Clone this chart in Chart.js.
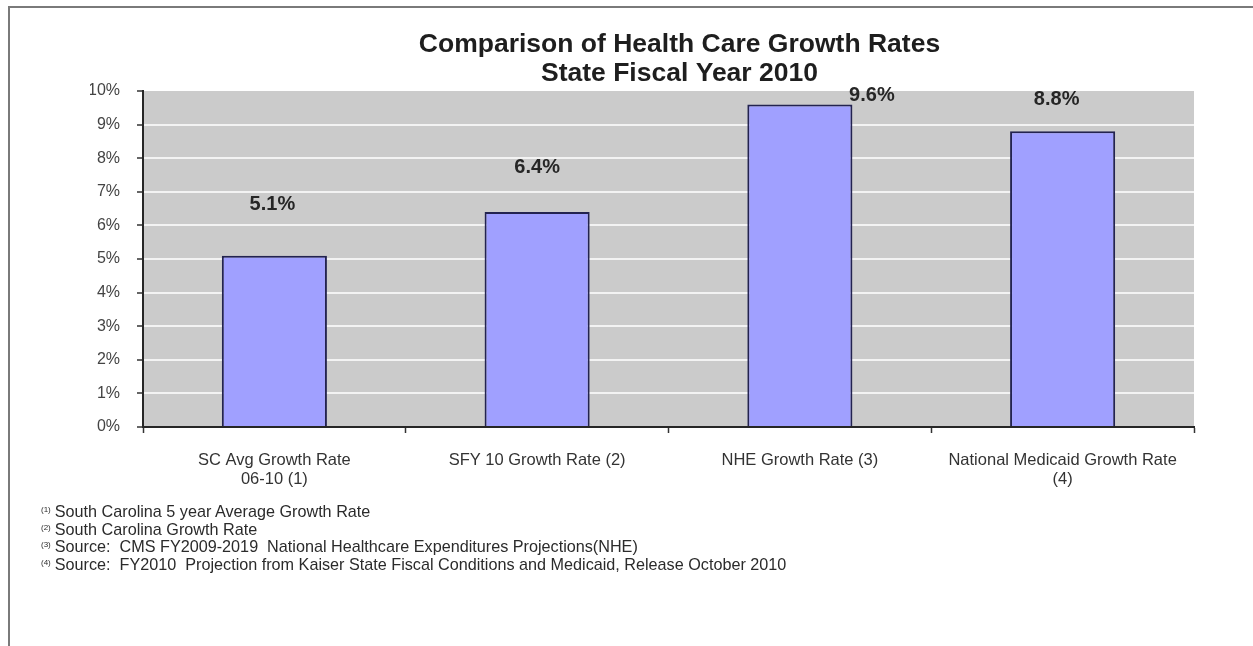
<!DOCTYPE html>
<html>
<head>
<meta charset="utf-8">
<title>Comparison of Health Care Growth Rates</title>
<script src="https://cdn.jsdelivr.net/npm/chart.js@4.4.0/dist/chart.umd.min.js"></script>
<style>
  html, body { margin: 0; padding: 0; background: #fff; }
  #wrap { position: relative; width: 1253px; height: 646px; overflow: hidden; }
  #frame { position: absolute; left: 8px; top: 6px; right: -4px; bottom: -4px;
           border-top: 2px solid #7a7a7a; border-left: 2px solid #7a7a7a; }
  #growthChart { position: absolute; left: 0; top: 0; }
  #notes { position: absolute; left: 41px; top: 503px; color: #2b2b2b;
           font: 16.2px "Liberation Sans", Arial, sans-serif; white-space: pre; }
  #notes div { height: 17.5px; line-height: 17.5px; }
  #notes sup { font-size: 8px; line-height: 0; vertical-align: 5px; margin-right: 4px; }
</style>
</head>
<body>
<div id="wrap">
  <div id="frame"></div>
  <canvas id="growthChart" width="1253" height="646"></canvas>
  <div id="notes"></div>
</div>
<script>
const categories = [
  ['SC Avg Growth Rate', '06-10 (1)'],
  'SFY 10 Growth Rate (2)',
  'NHE Growth Rate (3)',
  ['National Medicaid Growth Rate', '(4)']
];
const growthRates = [5.1, 6.4, 9.6, 8.8];
const yTickLabels = ['0%', '1%', '2%', '3%', '4%', '5%', '6%', '7%', '8%', '9%', '10%'];
const titleLines = ['Comparison of Health Care Growth Rates', 'State Fiscal Year 2010'];
const footnotes = [
  ['(1)', 'South Carolina 5 year Average Growth Rate'],
  ['(2)', 'South Carolina Growth Rate'],
  ['(3)', 'Source:  CMS FY2009-2019  National Healthcare Expenditures Projections(NHE)'],
  ['(4)', 'Source:  FY2010  Projection from Kaiser State Fiscal Conditions and Medicaid, Release October 2010']
];

const FONT = '"Liberation Sans", Arial, sans-serif';

// footnotes under the chart
const notes = document.getElementById('notes');
footnotes.forEach(([mark, text]) => {
  const line = document.createElement('div');
  const sup = document.createElement('sup');
  sup.textContent = mark;
  line.appendChild(sup);
  line.appendChild(document.createTextNode(text));
  notes.appendChild(line);
});

// grey fill behind the plot area
const plotBackground = {
  id: 'plotBackground',
  beforeDraw(chart) {
    const { ctx, chartArea: a } = chart;
    ctx.save();
    ctx.fillStyle = '#cbcbcb';
    ctx.fillRect(a.left, a.top, a.right - a.left, a.bottom - a.top);
    ctx.restore();
  }
};

// two-line heading, sits a little right of the plot centre
const heading = {
  id: 'heading',
  afterDraw(chart, args, opts) {
    const { ctx, chartArea: a } = chart;
    const cx = (a.left + a.right) / 2 + opts.shift;
    ctx.save();
    ctx.font = 'bold 26.5px ' + FONT;
    ctx.fillStyle = '#1e1e1e';
    ctx.textAlign = 'center';
    ctx.textBaseline = 'middle';
    titleLines.forEach((t, i) => ctx.fillText(t, cx, opts.top + i * opts.lineGap));
    ctx.restore();
  }
};

// percentage labels over each bar (nudged by hand like the original)
const valueLabels = {
  id: 'valueLabels',
  afterDatasetsDraw(chart, args, opts) {
    const { ctx } = chart;
    const meta = chart.getDatasetMeta(0);
    ctx.save();
    ctx.font = 'bold 20px ' + FONT;
    ctx.fillStyle = '#262626';
    ctx.textAlign = 'center';
    ctx.textBaseline = 'middle';
    meta.data.forEach((bar, i) => {
      const [dx, dy] = opts.nudge[i];
      ctx.fillText(growthRates[i].toFixed(1) + '%', bar.x + dx, bar.y + dy);
    });
    ctx.restore();
  }
};

const ctx = document.getElementById('growthChart');

new Chart(ctx, {
  type: 'bar',
  data: {
    labels: categories,
    datasets: [{
      data: growthRates,
      backgroundColor: '#a0a0ff',
      borderColor: '#232350',
      borderWidth: 2,
      categoryPercentage: 1,
      barPercentage: 0.4
    }]
  },
  options: {
    responsive: false,
    animation: false,
    layout: { padding: { left: 90, right: 59, top: 91, bottom: 149 } },
    plugins: {
      legend: { display: false },
      tooltip: { enabled: false },
      title: { display: false },
      heading: { shift: 11, top: 45, lineGap: 28.5 },
      valueLabels: {
        nudge: [[-2, -51], [0, -44], [72, -9], [-6, -32]]
      }
    },
    scales: {
      x: {
        grid: { offset: true, drawOnChartArea: false, tickColor: '#333', tickWidth: 1.5, tickLength: 6 },
        border: { color: '#262626', width: 2 },
        ticks: {
          color: '#333',
          font: { family: FONT, size: 16.5, lineHeight: 1.15 },
          padding: 18,
          maxRotation: 0,
          autoSkip: false
        },
        afterFit(scale) { scale.height = 70; }
      },
      y: {
        min: 0,
        max: 10,
        ticks: {
          stepSize: 1,
          color: '#444',
          font: { family: FONT, size: 16 },
          padding: 17,
          callback: v => yTickLabels[v]
        },
        grid: {
          color: c => (c.tick && (c.tick.value === 0 || c.tick.value === 10)) ? 'rgba(0,0,0,0)' : '#f3f3f3',
          lineWidth: 2,
          tickColor: '#333',
          tickWidth: 1.5,
          tickLength: 6
        },
        border: { color: '#262626', width: 2 },
        afterFit(scale) { scale.width = 53; }
      }
    }
  },
  plugins: [plotBackground, heading, valueLabels]
});
</script>
</body>
</html>
